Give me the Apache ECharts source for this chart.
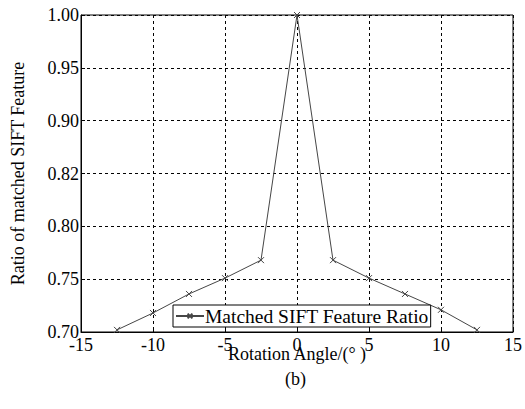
<!DOCTYPE html>
<html>
<head>
<meta charset="utf-8">
<script src="https://cdn.jsdelivr.net/npm/echarts@6/dist/echarts.min.js"></script>
<style>
  html, body { margin: 0; padding: 0; background: #fff; }
  #chart { width: 525px; height: 409px; }
  #veil { position: absolute; left: 0; top: 0; width: 525px; height: 409px; background: rgba(255,255,255,0.01); pointer-events: none; font: 9px monospace; color: transparent; white-space: pre; }
</style>
</head>
<body>
<div id="chart"></div>
<div id="veil"></div>
<script>
  var angles = [-12.5, -10, -7.5, -5, -2.5, 0, 2.5, 5, 7.5, 10, 12.5];
  var ratios = [0.702, 0.718, 0.736, 0.751, 0.768, 1.00, 0.768, 0.751, 0.736, 0.721, 0.702];
  var yTickLabels = ['0.70', '0.75', '0.80', '0.82', '0.90', '0.95', '1.00'];
  var seriesName = 'Matched SIFT Feature Ratio';

  var font = 'Liberation Serif';
  var cross = 'path://M0,0L10,10M10,0L0,10';

  var option = {
    animation: false,
    backgroundColor: '#fff',
    textStyle: { fontFamily: font },
    grid: {
      left: 81, right: 8, top: 15, bottom: 77,
      show: true, borderColor: '#000', borderWidth: 1, backgroundColor: 'transparent'
    },
    legend: {
      data: [seriesName],
      left: 173, top: 305,
      backgroundColor: '#fff',
      borderColor: '#000',
      borderWidth: 1,
      borderRadius: 0,
      padding: [1, 2, 1, 2],
      itemWidth: 28,
      itemHeight: 6,
      itemGap: 0,
      textStyle: { fontFamily: font, fontSize: 19.5, color: '#000', padding: [0, 0, 0, -4] }
    },
    xAxis: {
      type: 'value',
      min: -15, max: 15, interval: 5,
      name: 'Rotation Angle/(° )',
      nameLocation: 'middle',
      nameGap: 13,
      nameMoveOverlap: false,
      nameTextStyle: { fontFamily: font, fontSize: 18, color: '#000', verticalAlign: 'top', lineHeight: 18 },
      axisLine: { onZero: false, lineStyle: { color: '#000', width: 1 } },
      axisTick: { inside: true, length: 4, lineStyle: { color: '#000' } },
      axisLabel: { fontFamily: font, fontSize: 18, color: '#000', margin: 4 },
      splitLine: { show: true, lineStyle: { color: '#000', type: [3, 3], width: 1 } }
    },
    yAxis: {
      type: 'value',
      min: 0.70, max: 1.00, interval: 0.05,
      name: 'Ratio of matched SIFT Feature',
      nameLocation: 'middle',
      nameGap: 54,
      nameMoveOverlap: false,
      nameTextStyle: { fontFamily: font, fontSize: 18, color: '#000' },
      axisLine: { onZero: false, lineStyle: { color: '#000', width: 1 } },
      axisTick: { inside: true, length: 4, lineStyle: { color: '#000' } },
      axisLabel: {
        fontFamily: font, fontSize: 18, color: '#000', margin: 2,
        formatter: function (v) {
          var i = Math.round((v - 0.70) / 0.05);
          return yTickLabels[i];
        }
      },
      splitLine: { show: true, lineStyle: { color: '#000', type: [3, 3], width: 1 } }
    },
    series: [{
      name: seriesName,
      type: 'line',
      data: angles.map(function (a, i) { return [a, ratios[i]]; }),
      symbol: cross,
      symbolSize: 6,
      showAllSymbol: true,
      lineStyle: { color: '#444', width: 1 },
      itemStyle: { color: 'transparent', borderColor: '#444', borderWidth: 1 }
    }],
    graphic: [
      { type: 'text', left: 285, top: 370, style: { text: '(b)', fontFamily: font, fontSize: 18, fill: '#000' } }
    ]
  };

  var chart = echarts.init(document.getElementById('chart'), null, { renderer: 'svg' });
  chart.setOption(option);

  function touch() {
    var seen = [];
    document.querySelectorAll('#chart text').forEach(function (t) {
      seen.push(t.textContent + ' | ' + (t.getAttribute('style') || ''));
    });
    document.getElementById('veil').textContent = seen.join('\n');
  }
  touch();

  // redraw once the serif face is surely available
  setTimeout(function () {
    chart.clear();
    chart.setOption(option);
    touch();
  }, 60);
</script>
</body>
</html>
